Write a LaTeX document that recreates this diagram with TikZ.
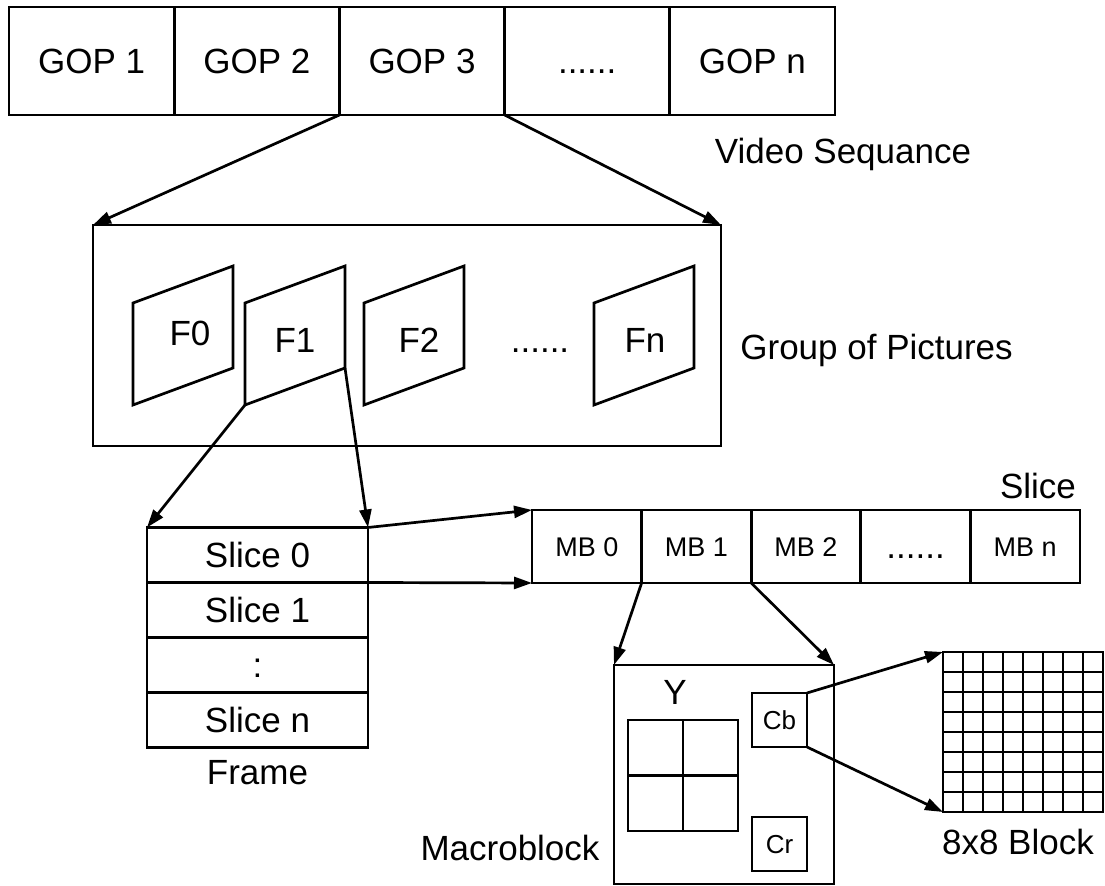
\documentclass[tikz,border=0pt]{standalone}
\usepackage{fontspec}
\setmainfont{Liberation Sans}
\usetikzlibrary{arrows.meta}
\begin{document}
\begin{tikzpicture}[x=0.5pt,y=-0.5pt,
  lw/.style={line width=1.35pt},
  bigt/.style={font=\fontsize{17.5}{21}\selectfont, text height=12.5pt, text depth=0pt, inner sep=0pt},
  midt/.style={font=\fontsize{13.5}{16}\selectfont, text height=9.7pt, text depth=0pt, inner sep=0pt},
  smt/.style={font=\fontsize{13}{15}\selectfont, text height=9.3pt, text depth=0pt, inner sep=0pt},
  cellbox/.style={draw, lw, inner sep=0pt, outer sep=0pt},
  arr/.style={lw, -{Triangle[length=9pt,width=6pt]}},
  frm/.style={draw, lw, line join=miter},
]
\useasboundingbox (0,0) rectangle (1105,886);

% Video sequence
\node[cellbox, bigt, minimum width=82.6pt, minimum height=54pt] (g1) at (91.6,61) {GOP 1};
\node[cellbox, bigt, minimum width=82.6pt, minimum height=54pt] (g2) at (256.8,61) {GOP 2};
\node[cellbox, bigt, minimum width=82.6pt, minimum height=54pt] (g3) at (422,61) {GOP 3};
\node[cellbox, bigt, minimum width=82.6pt, minimum height=54pt] (g4) at (587.2,61) {......};
\node[cellbox, bigt, minimum width=82.6pt, minimum height=54pt] (g5) at (752.4,61) {GOP n};
\node[bigt] (vlab) at (843,151) {Video Sequance};

% Group of pictures
\node[cellbox, minimum width=314pt, minimum height=110.5pt] (gop) at (407,335.5) {};
\draw[arr] (g3.south west) -- (gop.north west);
\draw[arr] (g3.south east) -- (gop.north east);

\draw[frm] (133,405) -- (133,303) -- (233,266) -- (233,368) -- cycle;
\draw[frm] (245,405) coordinate (f1bl) -- (245,303) -- (345,266) -- (345,368) coordinate (f1br) -- cycle;
\draw[frm] (364,405) -- (364,303) -- (464,266) -- (464,368) -- cycle;
\draw[frm] (594,405) -- (594,303) -- (694,266) -- (694,368) -- cycle;
\node[bigt] (f0) at (190,333) {F0};
\node[bigt] (f1) at (295,340) {F1};
\node[bigt] (f2) at (419,340) {F2};
\node[bigt] (fdots) at (540,340) {......};
\node[bigt] (fn) at (645,340) {Fn};
\node[bigt, anchor=west] (glab) at (740,347) {Group of Pictures};

% Frame
\node[cellbox, bigt, minimum width=110.5pt, minimum height=27.5pt] (s0) at (257.5,555) {Slice 0};
\node[cellbox, bigt, minimum width=110.5pt, minimum height=27.5pt] (s1) at (257.5,610) {Slice 1};
\node[cellbox, bigt, minimum width=110.5pt, minimum height=27.5pt] (s2) at (257.5,665) {:};
\node[cellbox, bigt, minimum width=110.5pt, minimum height=27.5pt] (s3) at (257.5,720) {Slice n};
\node[bigt] (flab) at (257.5,772) {Frame};
\draw[arr] (f1bl) -- (s0.north west);
\draw[arr] (f1br) -- (s0.north east);

% Slice
\node[cellbox, midt, minimum width=54.8pt, minimum height=36.5pt] (mb0) at (586.8,546.5) {MB 0};
\node[cellbox, midt, minimum width=54.8pt, minimum height=36.5pt] (mb1) at (696.4,546.5) {MB 1};
\node[cellbox, midt, minimum width=54.8pt, minimum height=36.5pt] (mb2) at (806,546.5) {MB 2};
\node[cellbox, bigt, minimum width=54.8pt, minimum height=36.5pt] (mb3) at (915.6,546.5) {......};
\node[cellbox, midt, minimum width=54.8pt, minimum height=36.5pt] (mb4) at (1025.2,546.5) {MB n};
\node[bigt] (slab) at (1038,486) {Slice};
\draw[arr] (s0.north east) -- (mb0.north west);
\draw[arr] (s0.south east) -- (mb0.south west);

% Macroblock
\node[cellbox, minimum width=110pt, minimum height=109.5pt] (mbk) at (724,774.5) {};
\draw[arr] (mb1.south west) -- (mbk.north west);
\draw[arr] (mb1.south east) -- (mbk.north east);
\node[bigt] (ylab) at (675,692) {Y};
\node[cellbox, minimum width=27.5pt, minimum height=27.75pt] (y00) at (655.5,747.75) {};
\node[cellbox, minimum width=27.5pt, minimum height=27.75pt] (y01) at (710.5,747.75) {};
\node[cellbox, minimum width=27.5pt, minimum height=27.75pt] (y10) at (655.5,803.25) {};
\node[cellbox, minimum width=27.5pt, minimum height=27.75pt] (y11) at (710.5,803.25) {};
\node[cellbox, smt, minimum width=27.5pt, minimum height=27pt] (cb) at (779.5,720) {Cb};
\node[cellbox, smt, minimum width=27.5pt, minimum height=27pt] (cr) at (779.5,844) {Cr};
\node[bigt] (mlab) at (510,848) {Macroblock};

% 8x8 block
\node[cellbox, minimum size=80pt] (blk) at (1023,732) {};
\foreach \k in {1,...,7} {
  \draw[lw] (943+20*\k,652) -- (943+20*\k,812);
  \draw[lw] (943,652+20*\k) -- (1103,652+20*\k);
}
\draw[arr] (cb.north east) -- (blk.north west);
\draw[arr] (cb.south east) -- (blk.south west);
\node[bigt] (blab) at (1018,842) {8x8 Block};
\end{tikzpicture}
\end{document}
